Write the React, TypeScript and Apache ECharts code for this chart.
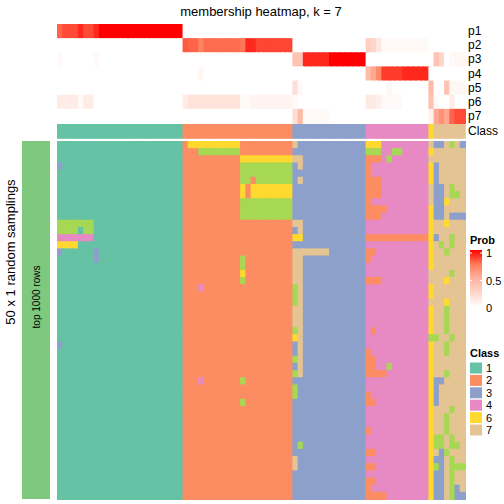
import React, { useEffect, useRef } from 'react';
import * as echarts from 'echarts';

const FONT = '"Liberation Sans", Arial, Helvetica, sans-serif';

const probLabels = ['p1', 'p2', 'p3', 'p4', 'p5', 'p6', 'p7'];

// membership probabilities per sample column (78 columns)
const p1 = [0.8,0.85,0.85,0.85,0.92,0.85,0.85,0.92,1,1,1,1,1,1,1,1,1,1,1,1,1,1,1,1,
  0,0,0,0,0,0,0,0,0,0,0,0,0,0,0,0,0,0,0,0,0,
  0,0,0,0,0,0,0,0,0,0,0,0,0,0,
  0,0,0,0,0,0,0,0,0,0,0,0,
  0,
  0,0,0,0,0,0];
const p2 = [0,0,0,0,0,0,0,0,0,0,0,0,0,0,0,0,0,0,0,0,0,0,0,0,
  0.82,0.8,0.8,0.72,0.78,0.78,0.78,0.78,0.78,0.78,0.78,0.76,0.92,0.92,0.86,0.86,0.86,0.86,0.86,0.86,0.86,
  0,0,0,0,0,0,0,0,0,0,0,0,0,0,
  0.3,0.25,0.15,0.04,0.04,0.04,0.04,0.04,0.04,0.04,0.04,0.04,
  0,
  0,0,0,0,0,0];
const p3 = [0.04,0,0,0,0,0,0,0.04,0,0,0,0,0,0,0,0,0,0,0,0,0,0,0,0,
  0,0,0,0,0,0,0,0,0,0,0,0,0,0,0,0,0,0,0,0,0,
  0.4,0.38,0.92,0.92,0.92,0.92,0.92,1,1,1,1,1,1,1,
  0,0,0,0,0,0,0,0,0,0,0,0,
  0,
  0.4,0.25,0,0.04,0.05,0.05];
const p4 = [0,0,0,0,0,0,0,0,0,0,0,0,0,0,0,0,0,0,0,0,0,0,0,0,
  0,0,0,0.05,0,0,0,0,0,0,0,0,0,0,0,0,0,0,0,0,0,
  0,0,0,0,0,0,0,0,0,0,0,0,0,0,
  0.45,0.55,0.7,0.88,0.88,0.88,0.88,0.92,0.92,0.92,0.92,0.92,
  0,
  0,0,0,0,0,0];
const p5 = [0,0,0,0,0,0,0,0,0,0,0,0,0,0,0,0,0,0,0,0,0,0,0,0,
  0,0,0,0,0,0,0,0,0,0,0,0,0,0,0,0,0,0,0,0,0,
  0.2,0.03,0,0,0,0,0,0,0,0,0,0,0,0,
  0,0,0,0,0.05,0,0,0,0,0,0,0,
  0.45,
  0,0,0.4,0.05,0.05,0.05];
const p6 = [0.12,0.12,0.12,0.12,0.04,0.12,0.12,0,0,0,0,0,0,0,0,0,0,0,0,0,0,0,0,0,
  0.12,0.18,0.18,0.17,0.17,0.17,0.17,0.17,0.17,0.17,0.17,0.04,0.04,0.07,0.07,0.07,0.07,0.07,0.07,0.07,0.07,
  0.03,0,0,0,0,0,0,0,0,0,0,0,0,0,
  0.13,0.13,0.1,0.03,0.03,0.03,0.03,0,0,0,0,0,
  0.4,
  0.03,0,0,0.12,0,0];
const p7 = [0,0,0,0,0,0,0,0,0,0,0,0,0,0,0,0,0,0,0,0,0,0,0,0,
  0,0,0,0,0,0,0,0,0,0,0,0,0,0,0,0,0,0,0,0,0,
  0.2,0.45,0.04,0.04,0.04,0.04,0.04,0,0,0,0,0,0,0,
  0,0,0,0,0,0,0,0,0,0,0,0,
  0.08,
  0.55,0.65,0.55,0.8,0.85,0.85];
const probRows = [p1, p2, p3, p4, p5, p6, p7];

// consensus class of each sample column
const sampleClasses = '111111111111111111111111|222222222222222222222|33333333333333|444444444444|6|777777';

// class assigned in each of the 50 random samplings (rows) for each sample (columns)
const samplingRows = [
  '111111111111111111111111|266666666662222222222|73333333333333|666444444444|7|337573',
  '111111111111111111111111|222555555552222222222|33333333333333|555445544444|6|777777',
  '111111111111111111111111|222222222226666666666|77333333333333|222454444444|7|777777',
  '311111111111111111111111|222222222225555555555|37333333333333|244444444444|6|377777',
  '111111111111111111111111|222222222225555555555|33333333333333|244444444444|6|377777',
  '111111111111111111111111|222222222225525555555|37333333333333|222444444444|6|377777',
  '111111111111111111111111|222222222226266666666|33333333333333|222444444444|7|337577',
  '111111111111111111111111|222222222226266666666|33333333333333|222444444444|7|337557',
  '111111111111111111111111|222222222225555555555|33333333333333|244444444444|7|336777',
  '111111111111111111111111|222222222225555555555|33333333333333|222244444444|6|337777',
  '111111111111111111111111|222222222225555555555|33333333333333|222444444444|6|337333',
  '555555511111111111111111|222222222222222222222|77333333333333|444444444444|6|776777',
  '555515511111111111111111|222222222222222222222|37333333333333|444444444444|6|777777',
  '444444411111111111111111|222222222222222222222|66333333333333|222222222222|6|377577',
  '666611111111111111111111|222222222222222222222|33333333333333|444444444444|6|757577',
  '311111131111111111111111|222222222222222222222|77777773333333|224444444444|6|775777',
  '111111131111111111111111|222222222225222222222|77333333333333|244444444444|6|777777',
  '111111111111111111111111|222222222225222222222|77333333333333|444444444444|6|777777',
  '111111111111111111111111|222222222226222222222|77333333333333|444444444444|7|777577',
  '111111111111111111111111|222222222225222222222|77333333333333|222444444444|7|776777',
  '111111111111111111111111|222422222222222222222|57333333333333|444444444444|6|777777',
  '111111111111111111111111|222222222222222222222|57333333333333|444444444444|6|777777',
  '111111111111111111111111|222222222222222222222|57333333333333|444444444444|7|776777',
  '111111111111111111111111|222222222222222222222|77333333333333|444444444444|6|775777',
  '111111111111111111111111|222222222222222222222|77333333333333|444444444444|6|775777',
  '111111111111111111111111|222222222222222222222|77333333333333|444444444444|6|775777',
  '111111111111111111111111|222222222222222222222|57333333333333|424444444444|6|775777',
  '111111111111111111111111|222222222222222222222|67333333333333|444444444444|5|577577',
  '311111111111111111111111|222222222222222222222|37333333333333|444444444444|6|775777',
  '111111111111111111111111|222222222222222222222|37333333333333|244444444444|6|775777',
  '111111111111111111111111|222222222222222222222|57333333333333|224444444444|6|777777',
  '111111111111111111111111|222222222222222222222|37333333333333|224454444444|6|777777',
  '111111111111111111111111|222222222222222222222|57333333333333|222244444444|6|775777',
  '111111111111111111111111|222422222225222222222|33333333333333|444444444444|6|337777',
  '111111111111111111111111|222222222222222222222|53333333333333|444444444444|6|377777',
  '111111111111111111111111|222222222222222222222|53333333333333|244444444444|6|377777',
  '111111111111111111111111|222222222225222222222|33333333333333|224444444444|6|377777',
  '111111111111111111111111|222222222222222222222|33333333333333|444444444444|6|777577',
  '111111111111111111111111|222222222222222222222|33333333333333|444444444444|6|775777',
  '111111111111111111111111|222222222222222222222|33333333333333|444444444444|6|775777',
  '111111111111111111111111|222222222222222222222|33333333333333|244444444444|6|775777',
  '111111111111111111111111|222222222222222222222|33333333333333|444444444444|6|557577',
  '111111111111111111111111|222222222222222222222|35333333333333|444444444444|6|557557',
  '111111111111111111111111|222222222222222222222|33333333333333|224444444444|6|735777',
  '111111111111111111111111|222222222222222222222|73333333333333|444444444444|6|337577',
  '111111111111111111111111|222222222222222222222|73333333333333|224444444444|6|537555',
  '111111111111111111111111|222222222222222222222|33333333333333|444444444444|6|337577',
  '111111111111111111111111|222222222222222222222|33333333333333|224444444444|6|337577',
  '111111111111111111111111|222222222222222222222|33333333333333|244444444444|6|337537',
  '111111111111111111111111|222222222222222222222|33333333333333|222244444444|6|337533',
];

const classColors: Record<string, string> = {
  '1': '#66C2A5', '2': '#FC8D62', '3': '#8DA0CB', '4': '#E78AC3',
  '5': '#A6D854', '6': '#FFD92F', '7': '#E5C494',
};
const legendClasses = ['1', '2', '3', '4', '6', '7'];
const probTicks = ['1', '0.5', '0'];
const probColors = ['#FFFFFF', '#FFD7CA', '#FFB39F', '#FF7C5B', '#FF0000'];

function cellRenderer(colorOf: (api: any) => string, ext: number) {
  return (params: any, api: any) => {
    const c = api.coord([api.value(0), api.value(1)]);
    const s = api.size([1, 1]);
    const lastCol = api.value(0) === params.dataInsideLength; // never true; keeps shape simple
    return {
      type: 'rect',
      shape: {
        x: c[0] - s[0] / 2,
        y: c[1] - s[1] / 2,
        width: s[0] + (lastCol ? 0 : ext),
        height: s[1] + ext,
      },
      style: { fill: colorOf(api), stroke: null, lineWidth: 0 },
    };
  };
}

export default function App() {
  const ref = useRef<HTMLDivElement>(null);
  useEffect(() => {
    const chart = echarts.init(ref.current!, null, { renderer: 'svg' });
    const cols = sampleClasses.replace(/\|/g, '');
    const xCats = cols.split('').map((_, i) => 's' + (i + 1));
    const rows = samplingRows.map((s) => s.replace(/\|/g, ''));
    const rowCats = rows.map((_, i) => 'r' + (i + 1));

    const probData: number[][] = [];
    probRows.forEach((arr, r) => arr.forEach((v, c) => probData.push([c, r, v])));
    const classData = cols.split('').map((ch, c) => [c, 0, Number(ch)]);
    const mainData: number[][] = [];
    rows.forEach((s, r) => s.split('').forEach((ch, c) => mainData.push([c, r, Number(ch)])));

    const L = 57;
    const W = 408;
    const lx = 470;
    const txt = (x: number, y: number, text: string, size: number, extra: any = {}) => ({
      type: 'text', x, y, ...(extra.rotation !== undefined ? { rotation: extra.rotation } : {}),
      style: {
        text, fontSize: size, fontFamily: FONT, fill: '#000', fontWeight: extra.bold ? 'bold' : 'normal',
        align: extra.align || 'left', verticalAlign: 'middle', textAlign: extra.align || 'left', textVerticalAlign: 'middle',
      },
    });
    const graphic: any[] = [
      txt(L + W / 2, 11, 'membership heatmap, k = 7', 13, { align: 'center' }),
      { type: 'rect', shape: { x: 22, y: 141, width: 28, height: 358 }, style: { fill: '#7FC97F' } },
      txt(36, 297, 'top 1000 rows', 10, { align: 'center', rotation: Math.PI / 2 }),
      txt(10, 252, '50 x 1 random samplings', 13, { align: 'center', rotation: Math.PI / 2 }),
      txt(lx, 240, 'Prob', 11, { bold: true }),
      {
        type: 'rect', shape: { x: lx, y: 250, width: 12, height: 57 },
        style: {
          fill: new echarts.graphic.LinearGradient(0, 0, 0, 1, [
            { offset: 0, color: probColors[4] },
            { offset: 0.25, color: probColors[3] },
            { offset: 0.5, color: probColors[2] },
            { offset: 0.75, color: probColors[1] },
            { offset: 1, color: probColors[0] },
          ]),
        },
      },
      txt(lx, 353, 'Class', 11, { bold: true }),
    ];
    probTicks.forEach((t, i) => {
      const y = 253 + i * 27.5;
      graphic.push({ type: 'line', shape: { x1: lx, y1: y, x2: lx + 2, y2: y }, style: { stroke: '#fff', lineWidth: 1 } });
      graphic.push({ type: 'line', shape: { x1: lx + 10, y1: y, x2: lx + 12, y2: y }, style: { stroke: '#fff', lineWidth: 1 } });
      graphic.push(txt(lx + 16, y, t, 11));
    });
    legendClasses.forEach((c, i) => {
      const y = 368 + i * 12.4;
      graphic.push({ type: 'rect', shape: { x: lx, y: y - 5.5, width: 12, height: 11 }, style: { fill: classColors[c] } });
      graphic.push(txt(lx + 16, y, c, 11));
    });

    const axisLabelStyle = { fontSize: 12, color: '#000', fontFamily: FONT, margin: 3, interval: 0 };
    chart.setOption({
      animation: false,
      grid: [
        { left: L, top: 24, width: W, height: 99 },
        { left: L, top: 124, width: W, height: 14 },
        { left: L, top: 141, width: W, height: 358 },
      ],
      xAxis: [0, 1, 2].map((i) => ({ type: 'category', gridIndex: i, data: xCats, show: false })),
      yAxis: [
        { type: 'category', gridIndex: 0, data: probLabels, inverse: true, position: 'right', axisLine: { show: false }, axisTick: { show: false }, axisLabel: axisLabelStyle },
        { type: 'category', gridIndex: 1, data: ['Class'], position: 'right', axisLine: { show: false }, axisTick: { show: false }, axisLabel: axisLabelStyle },
        { type: 'category', gridIndex: 2, data: rowCats, inverse: true, show: false },
      ],
      visualMap: [
        { type: 'continuous', seriesIndex: 0, dimension: 2, min: 0, max: 1, show: false, inRange: { color: probColors } },
      ],
      series: [
        { type: 'custom', xAxisIndex: 0, yAxisIndex: 0, data: probData, encode: { x: 0, y: 1 }, renderItem: cellRenderer((api) => api.visual('color'), 1) },
        { type: 'custom', xAxisIndex: 1, yAxisIndex: 1, data: classData, encode: { x: 0, y: 1 }, renderItem: cellRenderer((api) => classColors[String(api.value(2))], 0.8) },
        { type: 'custom', xAxisIndex: 2, yAxisIndex: 2, data: mainData, encode: { x: 0, y: 1 }, renderItem: cellRenderer((api) => classColors[String(api.value(2))], 1) },
      ],
      graphic,
    });
    return () => chart.dispose();
  }, []);
  return <div ref={ref} style={{ width: 504, height: 504, position: 'absolute', left: 0, top: 0 }} />;
}
